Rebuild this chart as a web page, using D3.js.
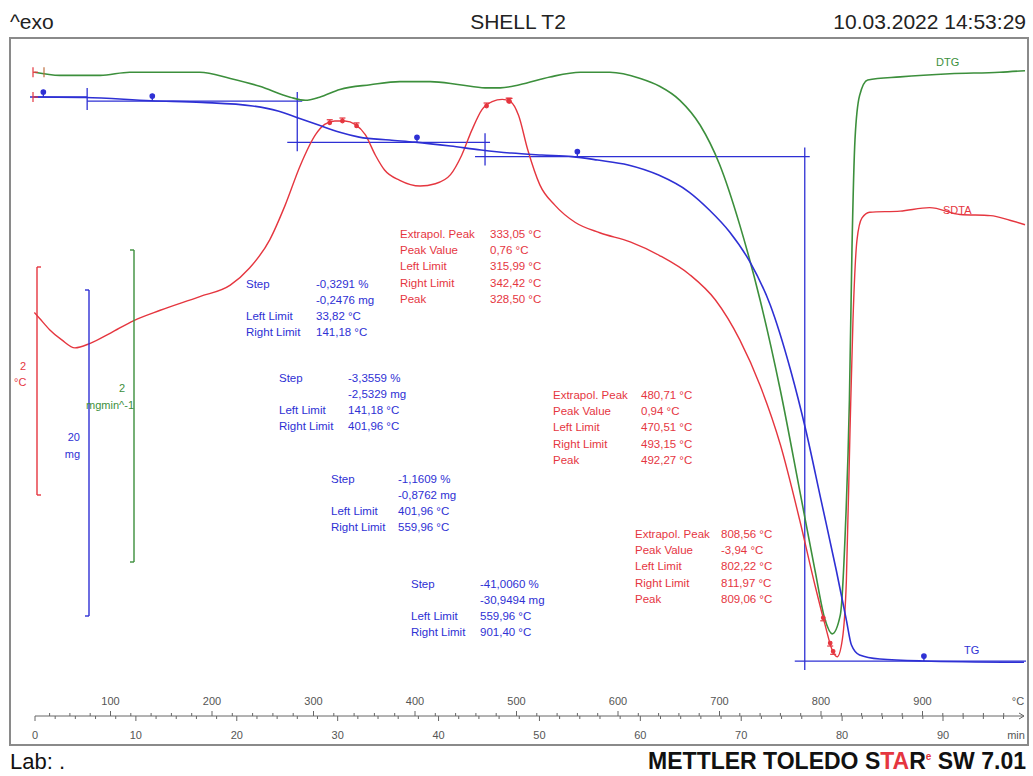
<!DOCTYPE html>
<html>
<head>
<meta charset="utf-8">
<script src="https://cdn.jsdelivr.net/npm/d3@7"></script>
<style>
  body { margin: 0; background: #fff; }
  svg { display: block; font-family: "Liberation Sans", Arial, sans-serif; }
</style>
</head>
<body>
<svg id="chart" width="1033" height="776"></svg>
<script>
// ---- TG curve: sample mass (mg) against sample temperature (°C)
const tgTemp = [25, 75, 140, 190, 240, 265, 285, 305, 325, 345, 375, 400, 435, 465, 495, 525, 555, 580, 610, 640, 670, 690, 710, 730, 750, 770, 785, 800, 815, 825, 830, 838, 858, 900, 1000];
const tgMass = [75.48, 75.45, 75.25, 75.15, 74.93, 74.62, 74.19, 73.76, 73.33, 73.02, 72.84, 72.71, 72.47, 72.23, 72.04, 71.92, 71.82, 71.61, 71.31, 70.69, 69.65, 68.55, 67.20, 65.36, 62.72, 58.73, 55.05, 50.76, 46.46, 43.39, 41.86, 41.25, 41.00, 40.88, 40.80];

// ---- DTG curve: mass change rate (mg/min)
const dtgTemp = [25, 50, 90, 119, 159, 188, 218, 247, 277, 292, 306, 326, 356, 385, 415, 444, 469, 484, 503, 533, 563, 592, 622, 641, 661, 681, 700, 720, 740, 760, 779, 794, 804, 811, 819, 824, 828, 830.5, 833.5, 838, 846, 878, 927, 976, 1001];
const dtgRate = [-0.04, -0.06, -0.06, -0.04, -0.04, -0.04, -0.08, -0.13, -0.20, -0.22, -0.20, -0.15, -0.12, -0.10, -0.10, -0.12, -0.14, -0.14, -0.12, -0.07, -0.04, -0.04, -0.08, -0.13, -0.22, -0.38, -0.63, -1.02, -1.50, -2.08, -2.72, -3.23, -3.55, -3.64, -3.52, -2.97, -2.14, -1.18, -0.47, -0.19, -0.09, -0.07, -0.05, -0.04, -0.03];

// ---- SDTA curve: temperature difference signal (°C)
const sdtaTemp = [25, 30, 40, 52, 65, 80, 100, 123, 149, 188, 218, 237, 257, 272, 287, 302, 311, 321, 331, 341, 351, 361, 370, 385, 405, 420, 435, 446, 456, 466, 476, 486, 494, 502, 511, 523, 538, 558, 582, 612, 641, 671, 696, 720, 740, 760, 779, 794, 804, 811, 816, 821, 825, 828.6, 831.5, 835.5, 840.4, 848, 878, 907, 937, 967, 986, 1001];
const sdtaSignal = [-0.11, -0.16, -0.26, -0.35, -0.42, -0.38, -0.29, -0.18, -0.09, 0.03, 0.13, 0.28, 0.53, 0.83, 1.18, 1.45, 1.54, 1.57, 1.57, 1.54, 1.45, 1.27, 1.14, 1.05, 1.00, 1.02, 1.10, 1.27, 1.49, 1.67, 1.74, 1.76, 1.74, 1.62, 1.32, 1.01, 0.83, 0.68, 0.59, 0.51, 0.39, 0.22, 0.00, -0.35, -0.75, -1.27, -1.93, -2.50, -2.85, -3.07, -3.13, -2.98, -2.46, -1.14, -0.18, 0.53, 0.72, 0.77, 0.78, 0.81, 0.75, 0.74, 0.70, 0.66];

// ---- TG step evaluation
const initialMass = 75.48;
const stepPercent = [-0.3291, -3.3559, -1.1609, -41.0060];
const stepMg = [-0.2476, -2.5329, -0.8762, -30.9494];
const stepLimits = [33.82, 141.18, 401.96, 559.96, 901.40];
const stepInflection = [77, 284, 469, 784];

// ---- SDTA peak evaluation
const peakExtrapol = [333.05, 480.71, 808.56];
const peakValue = [0.76, 0.94, -3.94];
const peakLeft = [315.99, 470.51, 802.22];
const peakRight = [342.42, 493.15, 811.97];
const peakTemp = [328.50, 492.27, 809.06];

// ---- Axis ticks
const tempLabels = [100, 200, 300, 400, 500, 600, 700, 800, 900];
const timeLabels = [0, 10, 20, 30, 40, 50, 60, 70, 80, 90];

// ---- Header / footer text
const titleText = "SHELL T2";
const dateText = "10.03.2022 14:53:29";

const svg = d3.select("#chart");
const frame = { left: 10, top: 38, right: 1028, bottom: 745 };

const colBlue = "#2e30d4", colGreen = "#3c8f3c", colRed = "#e5363f", colGrey = "#555";

// scales
const x = d3.scaleLinear().domain([100, 900]).range([110.5, 922.5]);
const xTime = d3.scaleLinear().domain([0, 90]).range([35, 943]);
const yTG = d3.scaleLinear().domain([initialMass, initialMass - 20]).range([97, 97 + 20 * 16.3]);
const yDTG = d3.scaleLinear().domain([0, -2]).range([66, 66 + 2 * 156]);
const ySDTA = d3.scaleLinear().domain([0, 2]).range([300, 300 - 2 * 114]);

// numbers with decimal comma and a plain hyphen as minus sign
const fmt = (v, d) => d3.format("." + d + "f")(v).replace("\u2212", "-").replace(".", ",");

// header
svg.append("text").attr("x", 10).attr("y", 29).attr("font-size", 21).attr("fill", "#222").text("^exo");
svg.append("text").attr("x", 518).attr("y", 29).attr("font-size", 21).attr("text-anchor", "middle").attr("fill", "#222").text(titleText);
svg.append("text").attr("x", 1026).attr("y", 29).attr("font-size", 21).attr("text-anchor", "end").attr("fill", "#222").text(dateText);

// frame
svg.append("rect").attr("x", frame.left).attr("y", frame.top)
  .attr("width", frame.right - frame.left).attr("height", frame.bottom - frame.top)
  .attr("fill", "none").attr("stroke", "#8a8a8a").attr("stroke-width", 2);

svg.append("clipPath").attr("id", "plotclip").append("rect")
  .attr("x", frame.left + 1).attr("y", frame.top + 1)
  .attr("width", frame.right - frame.left - 2).attr("height", 670);

const plot = svg.append("g").attr("clip-path", "url(#plotclip)");

// linear interpolation along a sampled curve
function interp(xs, ys, t) {
  const i = Math.max(1, Math.min(xs.length - 1, d3.bisectLeft(xs, t)));
  const a = xs[i - 1], b = xs[i];
  return ys[i - 1] + (ys[i] - ys[i - 1]) * (t - a) / (b - a);
}

// step evaluation lines (TG)
const levels = [initialMass];
stepMg.forEach(d => levels.push(levels[levels.length - 1] + d));
const ev = plot.append("g").attr("stroke", colBlue).attr("stroke-width", 1.3).attr("fill", "none");
levels.forEach((lv, i) => {
  const x0 = i === 0 ? 30 : x(stepInflection[i - 1]) - (i === 1 ? 0 : 10);
  const x1 = i === levels.length - 1 ? 1026 : x(stepInflection[i]) + (i === 0 ? 0 : 5);
  ev.append("line").attr("x1", x0).attr("x2", x1).attr("y1", yTG(lv)).attr("y2", yTG(lv));
});
stepInflection.forEach((t, i) => {
  ev.append("line").attr("x1", x(t)).attr("x2", x(t))
    .attr("y1", yTG(levels[i]) - 9).attr("y2", yTG(levels[i + 1]) + 9);
});
stepLimits.forEach((t, i) => {
  const yy = yTG(levels[i]);
  ev.append("line").attr("x1", x(t)).attr("x2", x(t)).attr("y1", yy - 5).attr("y2", yy);
  ev.append("circle").attr("cx", x(t)).attr("cy", yy - 5).attr("r", 2.2).attr("fill", colBlue);
});

// curves
const zip = (a, b) => a.map((d, i) => [d, b[i]]);
const line = (ys) => d3.line().x(d => x(d[0])).y(d => ys(d[1])).curve(d3.curveMonotoneX);

plot.append("path").datum(zip(dtgTemp, dtgRate)).attr("d", line(yDTG))
  .attr("fill", "none").attr("stroke", colGreen).attr("stroke-width", 1.6);
plot.append("path").datum(zip(sdtaTemp, sdtaSignal)).attr("d", line(ySDTA))
  .attr("fill", "none").attr("stroke", colRed).attr("stroke-width", 1.4);
plot.append("path").datum(zip(tgTemp, tgMass)).attr("d", line(yTG))
  .attr("fill", "none").attr("stroke", colBlue).attr("stroke-width", 1.6);

// curve start markers
const sm = plot.append("g").attr("stroke", colRed).attr("stroke-width", 1.2);
[[yDTG(dtgRate[0]), true], [yTG(tgMass[0]), false]].forEach(([yy, two]) => {
  sm.append("line").attr("x1", 33).attr("x2", 33).attr("y1", yy - 5).attr("y2", yy + 5);
  sm.append("line").attr("x1", 33).attr("x2", 38).attr("y1", yy).attr("y2", yy);
  if (two) sm.append("line").attr("x1", 44).attr("x2", 44).attr("y1", yy - 5).attr("y2", yy + 5).attr("stroke", "#c07040");
});

// peak markers (SDTA)
const pm = plot.append("g").attr("stroke", colRed).attr("fill", colRed).attr("stroke-width", 1.2);
peakTemp.forEach((pt, i) => {
  [peakLeft[i], pt, peakRight[i]].forEach(t => {
    const yy = ySDTA(interp(sdtaTemp, sdtaSignal, t));
    const up = peakValue[i] > 0 ? -1 : 1;
    pm.append("line").attr("x1", x(t) - 3).attr("x2", x(t) + 3).attr("y1", yy + up * 3).attr("y2", yy + up * 3);
    pm.append("line").attr("x1", x(t)).attr("x2", x(t)).attr("y1", yy).attr("y2", yy + up * 3);
    pm.append("circle").attr("cx", x(t)).attr("cy", yy).attr("r", 1.8);
  });
});

// curve labels
svg.append("text").attr("x", 936).attr("y", 66).attr("font-size", 11).attr("fill", colGreen).text("DTG");
svg.append("text").attr("x", 943).attr("y", 214).attr("font-size", 11).attr("fill", colRed).text("SDTA");
svg.append("text").attr("x", 964).attr("y", 654).attr("font-size", 11).attr("fill", colBlue).text("TG");

// scale bars
function bar(xb, y0, len, col, dir) {
  const g = svg.append("g").attr("stroke", col).attr("stroke-width", 1.4).attr("fill", "none");
  g.append("line").attr("x1", xb).attr("x2", xb).attr("y1", y0).attr("y2", y0 + len);
  g.append("line").attr("x1", xb).attr("x2", xb + dir * 4).attr("y1", y0).attr("y2", y0);
  g.append("line").attr("x1", xb).attr("x2", xb + dir * 4).attr("y1", y0 + len).attr("y2", y0 + len);
}
bar(37, 267, Math.abs(ySDTA(2) - ySDTA(0)), colRed, 1);
bar(89, 290, Math.abs(yTG(initialMass - 20) - yTG(initialMass)), colBlue, -1);
bar(134, 250, Math.abs(yDTG(-2) - yDTG(0)), colGreen, -1);

svg.append("text").attr("x", 20).attr("y", 370).attr("font-size", 11).attr("fill", colRed).text("2");
svg.append("text").attr("x", 14).attr("y", 386).attr("font-size", 11).attr("fill", colRed).text("°C");
svg.append("text").attr("x", 80).attr("y", 441).attr("font-size", 11).attr("text-anchor", "end").attr("fill", colBlue).text("20");
svg.append("text").attr("x", 80).attr("y", 458).attr("font-size", 11).attr("text-anchor", "end").attr("fill", colBlue).text("mg");
svg.append("text").attr("x", 125).attr("y", 392).attr("font-size", 11).attr("text-anchor", "end").attr("fill", colGreen).text("2");
svg.append("text").attr("x", 134).attr("y", 409).attr("font-size", 11).attr("text-anchor", "end").attr("fill", colGreen).text("mgmin^-1");

// annotation blocks
function block(lx, vx, y0, rows, col, gap) {
  const g = svg.append("g").attr("font-size", 11.5).attr("fill", col);
  let yy = y0;
  rows.forEach(r => {
    if (r[0]) g.append("text").attr("x", lx).attr("y", yy).text(r[0]);
    g.append("text").attr("x", vx).attr("y", yy).text(r[1]);
    yy += gap;
  });
}
const stepPos = [[246, 316, 288], [279, 348, 382], [331, 398, 483], [411, 480, 588]];
stepPercent.forEach((p, i) => {
  const [lx, vx, y0] = stepPos[i];
  block(lx, vx, y0, [
    ["Step", fmt(p, 4) + " %"],
    ["", fmt(stepMg[i], 4) + " mg"],
    ["Left Limit", fmt(stepLimits[i], 2) + " °C"],
    ["Right Limit", fmt(stepLimits[i + 1], 2) + " °C"]
  ], colBlue, 16);
});
const peakPos = [[400, 490, 238], [553, 641, 399], [635, 721, 538]];
peakTemp.forEach((pt, i) => {
  const [lx, vx, y0] = peakPos[i];
  block(lx, vx, y0, [
    ["Extrapol. Peak", fmt(peakExtrapol[i], 2) + " °C"],
    ["Peak Value", fmt(peakValue[i], 2) + " °C"],
    ["Left Limit", fmt(peakLeft[i], 2) + " °C"],
    ["Right Limit", fmt(peakRight[i], 2) + " °C"],
    ["Peak", fmt(pt, 2) + " °C"]
  ], colRed, 16.2);
});

// bottom ruler: temperature above, time below
const rulerY = 716;
const ax = svg.append("g").attr("stroke", "#666").attr("stroke-width", 1);
ax.append("line").attr("x1", 35).attr("x2", 1024).attr("y1", rulerY).attr("y2", rulerY);
ax.append("path").attr("d", `M1019,${rulerY - 3} L1024,${rulerY} L1019,${rulerY + 3}`).attr("fill", "none");
d3.range(40, 1000, 20).forEach(t => {
  const major = t % 100 === 0;
  ax.append("line").attr("x1", x(t)).attr("x2", x(t)).attr("y1", rulerY).attr("y2", rulerY - (major ? 5 : 3));
});
d3.range(0, 97, 2).forEach(m => {
  const major = m % 10 === 0;
  ax.append("line").attr("x1", xTime(m)).attr("x2", xTime(m)).attr("y1", rulerY).attr("y2", rulerY + (major ? 5 : 3));
});
const lab = svg.append("g").attr("font-size", 11).attr("fill", colGrey).attr("text-anchor", "middle");
tempLabels.forEach(t => lab.append("text").attr("x", x(t)).attr("y", 705).text(t));
timeLabels.forEach(m => lab.append("text").attr("x", xTime(m)).attr("y", 739).text(m));
lab.append("text").attr("x", 1018).attr("y", 705).text("°C");
lab.append("text").attr("x", 1016).attr("y", 739).text("min");

// footer
svg.append("text").attr("x", 10).attr("y", 769).attr("font-size", 22).attr("fill", "#111").text("Lab: .");
const ft = svg.append("text").attr("x", 1026).attr("y", 769).attr("font-size", 23).attr("font-weight", "bold")
  .attr("text-anchor", "end").attr("fill", "#111");
ft.append("tspan").text("METTLER TOLEDO S");
ft.append("tspan").attr("fill", colRed).text("TA");
ft.append("tspan").text("R");
ft.append("tspan").attr("fill", colRed).attr("font-size", 10).attr("dy", -9).text("e");
ft.append("tspan").attr("dy", 9).text(" SW 7.01");
</script>
</body>
</html>
